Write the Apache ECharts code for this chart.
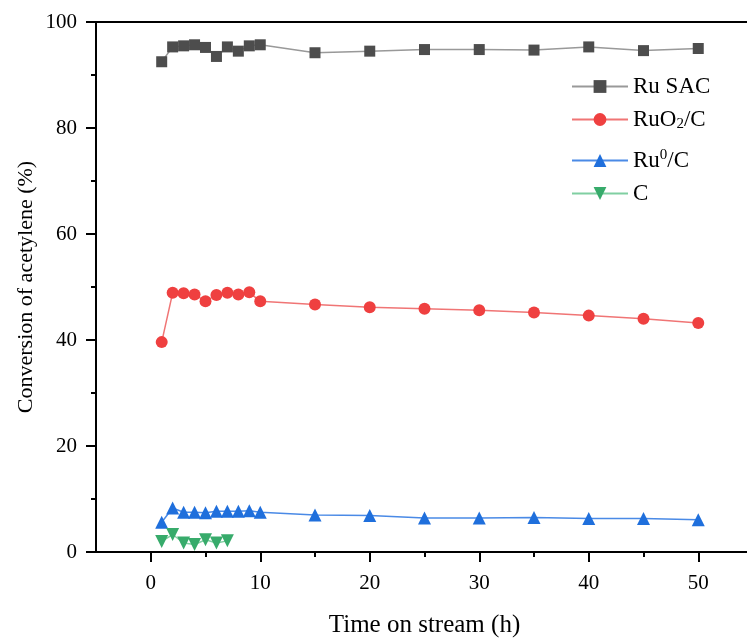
<!DOCTYPE html>
<html>
<head>
<meta charset="utf-8">
<script src="https://cdn.jsdelivr.net/npm/echarts@6/dist/echarts.min.js"></script>
<style>html,body{margin:0;padding:0;background:#fff}#c{width:747px;height:639px}</style>
</head>
<body>
<div id="c"></div>
<script>
const times = [1,2,3,4,5,6,7,8,9,10,15,20,25,30,35,40,45,50];
const ruSAC = [92.5,95.3,95.5,95.7,95.2,93.5,95.3,94.5,95.5,95.7,94.2,94.5,94.8,94.8,94.7,95.3,94.6,95.0];
const ruO2C = [39.6,48.9,48.8,48.6,47.3,48.5,48.9,48.6,49.0,47.3,46.7,46.2,45.9,45.6,45.2,44.6,44.0,43.2];
const ru0C  = [5.6,8.3,7.5,7.5,7.4,7.7,7.7,7.7,7.8,7.5,7.0,6.9,6.4,6.4,6.5,6.3,6.3,6.1];
const cTimes = [1,2,3,4,5,6,7];
const cVals = [2.0,3.3,1.7,1.4,2.3,1.7,2.1];
const xMajor = [0,10,20,30,40,50];
const xMinor = [5,15,25,35,45];
const names = ['Ru SAC','RuO{sub|2}/C','Ru{sup|0}/C','C'];

const pairs = (xs, ys) => xs.map((x,i)=>[x, ys[i]]);
const font = 'Liberation Serif';
const legendText = {fontFamily:font, fontSize:23, color:'#000',
  rich:{sub:{fontFamily:font, fontSize:15, verticalAlign:'bottom', padding:[10,0,0,0]},
        sup:{fontFamily:font, fontSize:15, verticalAlign:'top', padding:[0,0,10,0]}}};
const chart = echarts.init(document.getElementById('c'), null, {renderer:'canvas'});
chart.setOption({
  animation:false,
  backgroundColor:'#fff',
  grid:{left:96, top:22, width:657, height:530, containLabel:false, outerBoundsMode:'none',
        show:true, borderColor:'#000', borderWidth:2, backgroundColor:'transparent'},
  legend:[{
    orient:'vertical', left:566, top:70, itemWidth:56, itemHeight:16, itemGap:10,
    data:[names[0], names[1]], textStyle:legendText
  },{
    orient:'vertical', left:566, top:143, itemWidth:56, itemHeight:16, itemGap:10,
    data:[names[2], names[3]], textStyle:legendText
  }],
  xAxis:[{
    type:'value', min:-5, max:55, gridIndex:0, position:'bottom',
    name:'Time on stream (h)', nameLocation:'middle', nameGap:61,
    nameTextStyle:{fontFamily:font, fontSize:25, color:'#000'},
    axisLine:{show:true, onZero:false, lineStyle:{color:'#000', width:2}},
    axisTick:{show:true, inside:false, customValues:xMajor, length:10, lineStyle:{color:'#000', width:2}},
    axisLabel:{customValues:xMajor, fontFamily:font, fontSize:21, color:'#000', margin:21},
    splitLine:{show:false}
  },{
    type:'value', min:-5, max:55, gridIndex:0, position:'bottom', offset:0,
    axisLine:{show:false, onZero:false},
    axisTick:{show:true, inside:false, customValues:xMinor, length:5, lineStyle:{color:'#000', width:2}},
    axisLabel:{show:false}, splitLine:{show:false}
  }],
  yAxis:{
    type:'value', min:0, max:100, interval:20, position:'left',
    name:'Conversion of acetylene (%)', nameLocation:'middle', nameGap:59, nameMoveOverlap:false,
    nameTextStyle:{fontFamily:font, fontSize:22, color:'#000'},
    axisLine:{show:true, onZero:false, lineStyle:{color:'#000', width:2}},
    axisTick:{show:true, inside:false, length:10, lineStyle:{color:'#000', width:2}},
    minorTick:{show:true, splitNumber:2, length:5, lineStyle:{color:'#000', width:2}},
    axisLabel:{fontFamily:font, fontSize:21, color:'#000', margin:19},
    splitLine:{show:false}
  },
  series:[
    {name:names[0], type:'line', data:pairs(times, ruSAC), symbol:'rect', symbolSize:11,
     itemStyle:{color:'#4d4d4d'}, lineStyle:{color:'#999999', width:1.5}},
    {name:names[1], type:'line', data:pairs(times, ruO2C), symbol:'circle', symbolSize:12,
     itemStyle:{color:'#ef4040'}, lineStyle:{color:'#f07575', width:1.5}},
    {name:names[2], type:'line', data:pairs(times, ru0C), symbol:'triangle', symbolSize:13,
     itemStyle:{color:'#1f6fdc'}, lineStyle:{color:'#4a8ae6', width:1.5}},
    {name:names[3], type:'line', data:pairs(cTimes, cVals), symbol:'triangle', symbolRotate:180, symbolSize:13,
     itemStyle:{color:'#37ab6b'}, lineStyle:{color:'#80cfa2', width:1.5}}
  ]
});
</script>
</body>
</html>
